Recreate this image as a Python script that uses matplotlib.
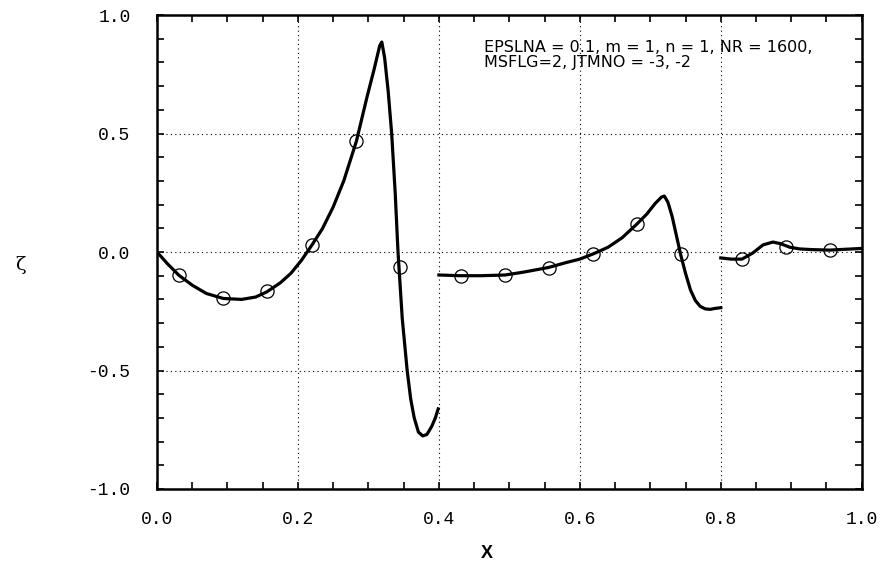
import matplotlib
matplotlib.use("Agg")
import matplotlib.pyplot as plt
from matplotlib.ticker import MultipleLocator

# Curve segments
x1 = [0.0, 0.015, 0.031, 0.05, 0.07, 0.094, 0.12, 0.14, 0.156, 0.175, 0.19, 0.205,
      0.22, 0.235, 0.25, 0.265, 0.283, 0.298, 0.308, 0.316, 0.319, 0.323, 0.328, 0.333,
      0.338, 0.342, 0.348, 0.355, 0.36, 0.365, 0.371, 0.377, 0.383, 0.39, 0.395, 0.399]
y1 = [0.0, -0.05, -0.098, -0.14, -0.175, -0.196, -0.2, -0.19, -0.168, -0.13, -0.09, -0.035,
      0.03, 0.1, 0.19, 0.3, 0.468, 0.654, 0.77, 0.87, 0.886, 0.82, 0.68, 0.5,
      0.25, 0.0, -0.28, -0.5, -0.62, -0.7, -0.76, -0.776, -0.77, -0.735, -0.7, -0.662]

x2 = [0.4, 0.43, 0.46, 0.494, 0.52, 0.556, 0.58, 0.6, 0.619, 0.64, 0.66, 0.681, 0.695,
      0.707, 0.716, 0.72, 0.725, 0.731, 0.737, 0.743, 0.75, 0.757, 0.764, 0.771, 0.778,
      0.785, 0.792, 0.8]
y2 = [-0.097, -0.1, -0.1, -0.097, -0.085, -0.065, -0.045, -0.03, -0.008, 0.02, 0.06, 0.118,
      0.16, 0.205, 0.232, 0.236, 0.21, 0.15, 0.07, -0.01, -0.09, -0.16, -0.205, -0.23, -0.24,
      -0.242, -0.238, -0.235]

x3 = [0.8, 0.815, 0.83, 0.845, 0.86, 0.874, 0.885, 0.898, 0.912, 0.93, 0.955, 0.98, 1.0]
y3 = [-0.025, -0.03, -0.03, -0.005, 0.03, 0.042, 0.035, 0.02, 0.013, 0.01, 0.008, 0.012, 0.015]

# Open circle markers
mx = [0.031, 0.094, 0.156, 0.22, 0.282, 0.345,
      0.431, 0.494, 0.556, 0.619, 0.681, 0.743,
      0.83, 0.893, 0.955]
my = [-0.097, -0.194, -0.165, 0.03, 0.468, -0.063,
      -0.101, -0.097, -0.067, -0.008, 0.118, -0.008,
      -0.03, 0.02, 0.008]

xticks = [0.0, 0.2, 0.4, 0.6, 0.8, 1.0]
yticks = [-1.0, -0.5, 0.0, 0.5, 1.0]

fig = plt.figure(figsize=(8.82, 5.73), dpi=100)
ax = fig.add_axes([0.178, 0.1466, 0.799, 0.8272])

for xs, ys in [(x1, y1), (x2, y2), (x3, y3)]:
    ax.plot(xs, ys, color="black", lw=2.3, solid_joinstyle="round")
ax.plot(mx, my, "o", mfc="none", mec="black", ms=9.5, mew=0.9)

ax.set_xlim(0, 1)
ax.set_ylim(-1, 1)
ax.set_xticks(xticks)
ax.set_yticks(yticks)
ax.set_xticklabels([f"{v:.1f}" for v in xticks], family="Liberation Mono", fontsize=13)
ax.set_yticklabels([f"{v:.1f}" for v in yticks], family="Liberation Mono", fontsize=13)
ax.xaxis.set_minor_locator(MultipleLocator(0.05))
ax.yaxis.set_minor_locator(MultipleLocator(0.1))
ax.tick_params(which="both", direction="in", top=True, right=True, length=5, width=1.2)
ax.tick_params(axis="x", pad=16)
ax.tick_params(axis="y", pad=19)
for s in ax.spines.values():
    s.set_linewidth(1.8)

ax.grid(True, which="major", color="black", lw=0.8, linestyle=(0, (1, 3)))

ax.text(0.464, 0.948, "EPSLNA = 0.1, m = 1, n = 1, NR = 1600,\nMSFLG=2, JTMNO = -3, -2",
        transform=ax.transAxes, family="DejaVu Sans", fontsize=11.5,
        va="top", ha="left", linespacing=1.05)

fig.text(20 / 882, 1 - 265 / 573, "ζ", fontsize=14, family="DejaVu Serif", ha="center", va="center")
fig.text(487 / 882, 1 - 553 / 573, "X", fontsize=13, family="Liberation Sans",
         fontweight="bold", ha="center", va="center")

fig.savefig("out.png", dpi=100)
